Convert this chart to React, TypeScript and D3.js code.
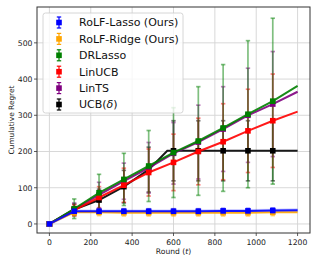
import React from 'react';
import * as d3 from 'd3';

// rounds where the curves are sampled (markers at every 120 up to 1080)
const rounds = [0, 120, 240, 360, 480, 600, 720, 840, 960, 1080, 1200];
const markerRounds = [0, 120, 240, 360, 480, 600, 720, 840, 960, 1080];

const rolfLasso = [0, 35, 35, 35, 35, 35, 35, 36, 36, 37, 38];
const rolfLassoErr = [0, 7, 7, 7, 7, 7, 7, 7, 7, 7];
const rolfRidge = [0, 32, 32, 31, 31, 31, 31, 31, 31, 32, 32];
const rolfRidgeErr = [0, 9, 9, 9, 9, 9, 9, 9, 9, 9];
const drLasso = [0, 42, 86, 123, 160, 197, 229, 265, 303, 339, 381];
const drLassoErr = [0, 27, 51, 72, 98, 124, 150, 175, 203, 229];
const linUcb = [0, 38, 73, 107, 142, 170, 200, 227, 257, 285, 310];
const linUcbErr = [0, 15, 30, 47, 65, 78, 92, 105, 115, 129];
const linTs = [0, 40, 80, 118, 155, 195, 226, 262, 300, 331, 365];
const linTsErr = [0, 18, 35, 50, 70, 85, 102, 117, 130, 145];
// UCB(delta) stops growing around round 570
const ucbRounds = [0, 120, 240, 360, 480, 570, 1200];
const ucbLine = [0, 40, 66, 103, 150, 202, 202];
const ucbMarkers = [0, 40, 66, 103, 150, 202, 202, 202, 202, 202];
const ucbErr = [0, 15, 30, 45, 62, 83, 83, 83, 83, 83];

const xTicks = [0, 200, 400, 600, 800, 1000, 1200];
const yTicks = [0, 100, 200, 300, 400, 500];

interface Series {
  name: string;
  color: string;
  lineX: number[];
  lineY: number[];
  markers: number[];
  err: number[];
}

const series: Series[] = [
  { name: 'RoLF-Lasso (Ours)', color: '#0000ff', lineX: rounds, lineY: rolfLasso, markers: rolfLasso.slice(0, 10), err: rolfLassoErr },
  { name: 'RoLF-Ridge (Ours)', color: '#ffa500', lineX: rounds, lineY: rolfRidge, markers: rolfRidge.slice(0, 10), err: rolfRidgeErr },
  { name: 'DRLasso', color: '#008000', lineX: rounds, lineY: drLasso, markers: drLasso.slice(0, 10), err: drLassoErr },
  { name: 'LinUCB', color: '#ff0000', lineX: rounds, lineY: linUcb, markers: linUcb.slice(0, 10), err: linUcbErr },
  { name: 'LinTS', color: '#800080', lineX: rounds, lineY: linTs, markers: linTs.slice(0, 10), err: linTsErr },
  { name: 'UCB', color: '#000000', lineX: ucbRounds, lineY: ucbLine, markers: ucbMarkers, err: ucbErr },
];

// draw order: black at the bottom, blue on top
const drawOrder = [5, 4, 3, 2, 1, 0];

const font = 'DejaVu Sans, sans-serif';

const App: React.FC = () => {
  const width = 319;
  const height = 266;
  const plot = { left: 37, right: 310, top: 7, bottom: 233 };

  const x = d3.scaleLinear().domain([-60, 1260]).range([plot.left, plot.right]);
  const y = d3.scaleLinear().domain([-25, 599]).range([plot.bottom, plot.top]);

  const line = d3
    .line<[number, number]>()
    .x((d) => x(d[0]))
    .y((d) => y(d[1]));

  const band = d3
    .area<[number, number]>()
    .x((d) => x(d[0]))
    .y0((d) => y(d[1] - 5))
    .y1((d) => y(d[1] + 5));

  const capW = 2.2;
  const ms = 5.6;

  return (
    <svg
      width={width}
      height={height}
      style={{ position: 'absolute', left: 0, top: 0, background: '#fff' }}
      fontFamily={font}
    >
      {/* grid */}
      {xTicks.map((t) => (
        <line key={'gx' + t} x1={x(t)} x2={x(t)} y1={plot.top} y2={plot.bottom} stroke="#d4d4d4" strokeWidth={0.9} />
      ))}
      {yTicks.map((t) => (
        <line key={'gy' + t} x1={plot.left} x2={plot.right} y1={y(t)} y2={y(t)} stroke="#d4d4d4" strokeWidth={0.9} />
      ))}

      {/* light band around RoLF-Lasso */}
      <path d={band(rounds.map((r, i) => [r, rolfLasso[i]] as [number, number])) || ''} fill="#0000ff" opacity={0.2} />

      {/* error bars */}
      {drawOrder.map((si) => {
        const s = series[si];
        return (
          <g key={'e' + si} stroke={s.color} strokeOpacity={0.5} strokeWidth={1.7}>
            {markerRounds.map((r, i) => {
              const lo = y(s.markers[i] - s.err[i]);
              const hi = y(s.markers[i] + s.err[i]);
              return (
                <g key={i}>
                  <line x1={x(r)} x2={x(r)} y1={lo} y2={hi} />
                  <line x1={x(r) - capW} x2={x(r) + capW} y1={lo} y2={lo} />
                  <line x1={x(r) - capW} x2={x(r) + capW} y1={hi} y2={hi} />
                </g>
              );
            })}
          </g>
        );
      })}

      {/* lines and markers */}
      {drawOrder.map((si) => {
        const s = series[si];
        const pts = s.lineX.map((r, i) => [r, s.lineY[i]] as [number, number]);
        return (
          <g key={'l' + si}>
            <path d={line(pts) || ''} fill="none" stroke={s.color} strokeWidth={2} strokeOpacity={0.9} />
            {markerRounds.map((r, i) => (
              <rect key={i} x={x(r) - ms / 2} y={y(s.markers[i]) - ms / 2} width={ms} height={ms} fill={s.color} />
            ))}
          </g>
        );
      })}

      {/* frame */}
      <rect
        x={plot.left}
        y={plot.top}
        width={plot.right - plot.left}
        height={plot.bottom - plot.top}
        fill="none"
        stroke="#333"
        strokeWidth={1}
      />

      {/* x axis */}
      {xTicks.map((t) => (
        <g key={'xt' + t}>
          <line x1={x(t)} x2={x(t)} y1={plot.bottom} y2={plot.bottom + 3} stroke="#333" strokeWidth={0.8} />
          <text x={x(t)} y={plot.bottom + 12} fontSize={7.7} textAnchor="middle" fill="#222">
            {t}
          </text>
        </g>
      ))}
      <text x={(plot.left + plot.right) / 2} y={254} fontSize={7.6} textAnchor="middle" fill="#222">
        Round (<tspan fontStyle="italic">t</tspan>)
      </text>

      {/* y axis */}
      {yTicks.map((t) => (
        <g key={'yt' + t}>
          <line x1={plot.left - 3} x2={plot.left} y1={y(t)} y2={y(t)} stroke="#333" strokeWidth={0.8} />
          <text x={plot.left - 4.5} y={y(t) + 2.8} fontSize={7.7} textAnchor="end" fill="#222">
            {t}
          </text>
        </g>
      ))}
      <text
        transform={`translate(14, ${(plot.top + plot.bottom) / 2}) rotate(-90)`}
        fontSize={7.4}
        textAnchor="middle"
        fill="#222"
      >
        Cumulative Regret
      </text>

      {/* legend */}
      <g>
        <rect x={43} y={13} width={140} height={100} rx={2.5} fill="#fff" fillOpacity={0.8} stroke="#cccccc" strokeWidth={0.8} />
        {series.map((s, i) => {
          const cy = 22.5 + i * 16.4;
          const cx = 59;
          return (
            <g key={'lg' + i}>
              <g stroke={s.color} strokeWidth={1.2}>
                <line x1={cx} x2={cx} y1={cy - 5.5} y2={cy + 5.5} />
                <line x1={cx - capW} x2={cx + capW} y1={cy - 5.5} y2={cy - 5.5} />
                <line x1={cx - capW} x2={cx + capW} y1={cy + 5.5} y2={cy + 5.5} />
              </g>
              <rect x={cx - ms / 2} y={cy - ms / 2} width={ms} height={ms} fill={s.color} />
              <text x={79} y={cy + 3.9} fontSize={11} fill="#111">
                {s.name === 'UCB' ? (
                  <>
                    UCB(<tspan fontStyle="italic">δ</tspan>)
                  </>
                ) : (
                  s.name
                )}
              </text>
            </g>
          );
        })}
      </g>
    </svg>
  );
};

export default App;
